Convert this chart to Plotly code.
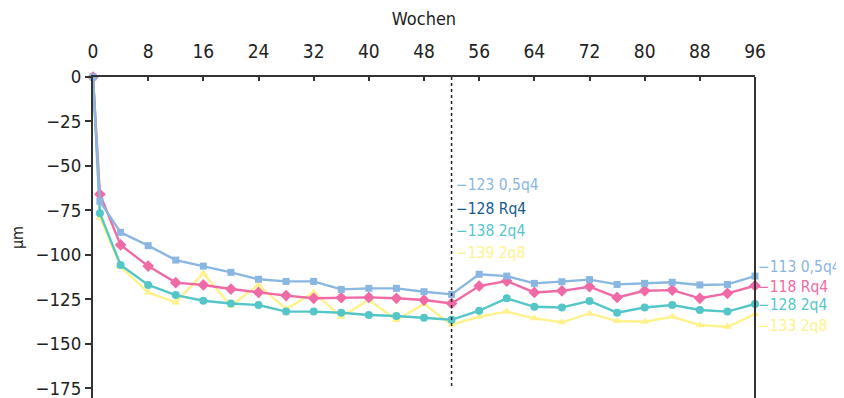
import plotly.graph_objects as go

weeks = [0, 1] + list(range(4, 97, 4))

s_05q4 = [0, -70, -87.4, -94.9, -103, -106.4, -109.9, -113.8, -115, -115, -119.5, -118.9, -118.9, -120.8,
          -122.3, -111, -112, -116.1, -115.2, -114, -116.7, -116.1, -115.5, -117, -116.7, -112]
s_rq4 = [0, -66, -94.5, -106.4, -115.7, -117, -119.3, -121.2, -123, -124.5, -124.2, -124, -124.5, -125.5,
         -127.4, -117.6, -114.8, -121.2, -120.3, -118, -124, -120.3, -119.9, -124.5, -121.7, -117.4]
s_2q4 = [0, -76.7, -105.8, -117, -122.7, -125.9, -127.4, -128.3, -132, -132, -132.6, -133.9, -134.5, -135.4,
         -136.6, -131.5, -124.5, -129.3, -129.7, -126, -132.6, -129.7, -128.3, -131.1, -132, -127.7]
s_2q8 = [0, -79, -106.7, -121.2, -126.8, -110.5, -128.7, -117, -130.6, -121.2, -134.9, -125.5, -136.7, -127.7,
         -139.4, -134.9, -132, -135.8, -138, -133, -137.3, -137.7, -134.9, -139.6, -140.5, -133.5]

x_ticks = list(range(0, 97, 8))
y_ticks = [0, -25, -50, -75, -100, -125, -150, -175]

mid_labels = ["\u2212123 0,5q4", "\u2212128 Rq4", "\u2212138 2q4", "\u2212139 2q8"]
end_labels = ["\u2212113 0,5q4", "\u2212118 Rq4", "\u2212128 2q4", "\u2212133 2q8"]

c_blue = "#8ab6e2"
c_pink = "#f06aa6"
c_teal = "#55c6c8"
c_yellow = "#fff28c"
c_dark = "#15598f"

FONT = "DejaVu Sans Condensed, Roboto, sans-serif"

fig = go.Figure()
series = [
    (s_2q8, c_yellow, "triangle-up", 8),
    (s_2q4, c_teal, "circle", 8),
    (s_rq4, c_pink, "diamond", 9),
    (s_05q4, c_blue, "square", 7),
]
for vals, col, sym, ms in series:
    fig.add_trace(go.Scatter(
        x=weeks, y=vals, mode="lines+markers",
        line=dict(color=col, width=2.4),
        marker=dict(symbol=sym, size=ms, color=col),
        showlegend=False, hoverinfo="skip", cliponaxis=False))

# dotted vertical line at week 52
fig.add_shape(type="line", x0=52, x1=52, y0=0, y1=-175, xref="x", yref="y",
              line=dict(color="#222", width=1.5, dash="dot"))
# right border
fig.add_shape(type="line", x0=1, x1=1, y0=0, y1=1, xref="paper", yref="paper",
              line=dict(color="#333", width=2))

mid_cols = [c_blue, c_dark, c_teal, c_yellow]
mid_y = [-61, -74, -86.5, -99]
for t, c, yv in zip(mid_labels, mid_cols, mid_y):
    fig.add_annotation(x=52.4, y=yv, text=t, showarrow=False, xanchor="left",
                       font=dict(family=FONT, size=15.5, color=c))

end_cols = [c_blue, c_pink, c_teal, c_yellow]
end_y = [-107, -118, -128.5, -140]
for t, c, yv in zip(end_labels, end_cols, end_y):
    fig.add_annotation(x=1.002, xref="paper", y=yv, text=t, showarrow=False, xanchor="left",
                       font=dict(family=FONT, size=15.5, color=c))

# page body adds an 8px offset; size the figure so the plot box lands where the reference has it
fig.update_layout(
    width=836, height=390,
    margin=dict(l=85, r=89, t=69, b=0, autoexpand=False),
    paper_bgcolor="white", plot_bgcolor="white",
    font=dict(family=FONT, size=18, color="#222"),
    xaxis=dict(side="top", range=[0, 96], tickvals=x_ticks, showgrid=False, zeroline=False,
               showline=True, linecolor="#333", linewidth=2, ticks="inside", ticklen=4,
               tickcolor="#333", tickwidth=2, automargin=False, ticklabelstandoff=9,
               tickfont=dict(size=19),
               title=dict(text="Wochen", font=dict(size=18), standoff=16)),
    yaxis=dict(range=[-180.6, 0], tickvals=y_ticks, showgrid=False, zeroline=False,
               showline=True, linecolor="#333", linewidth=2, ticks="outside", ticklen=6,
               tickcolor="#333", tickwidth=2, automargin=False, ticklabeloverflow="allow",
               tickfont=dict(size=18.5),
               title=dict(text="\u00b5m", font=dict(size=16), standoff=10)),
)

fig.write_html("out.html")
